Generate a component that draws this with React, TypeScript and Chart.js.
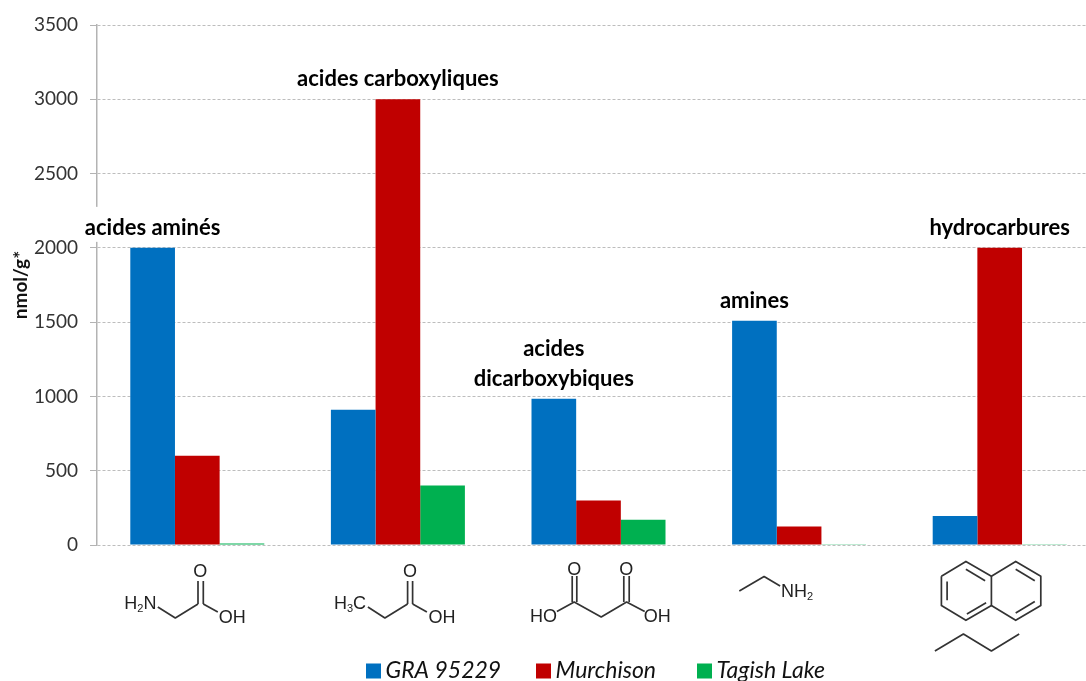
import React, { useEffect, useRef } from "react";
import { Chart, registerables } from "chart.js";

Chart.register(...registerables);

const categories = ["acides aminés", "acides carboxyliques", "acides dicarboxybiques", "amines", "hydrocarbures"];
const groupLabelLines = [["acides aminés"], ["acides carboxyliques"], ["acides", "dicarboxybiques"], ["amines"], ["hydrocarbures"]];
const seriesNames = ["GRA 95229", "Murchison", "Tagish Lake"];
const seriesColors = ["#0070C0", "#C00000", "#00B050"];
const gra95229 = [2000, 910, 985, 1510, 195];
const murchison = [600, 3000, 300, 125, 2000];
const tagishLake = [10, 400, 170, 5, 5];

const LABEL_FONT = "Lato, sans-serif";
const CHEM_FONT = '"Liberation Sans", Arial, sans-serif';

type Seg = { t: string; sub?: boolean };
type Atom = { x: number; y: number; segs: Seg[] };
type Structure = { lines: number[][]; atoms: Atom[] };

// Molecule sketches: offsets from the category centre and from the x axis.
const structures: Structure[] = [
  {
    lines: [
      [-39.5, 62, -22, 73, 0.7, 59],
      [0.7, 59, 0.7, 36],
      [6, 59, 6, 36],
      [6, 59, 20.5, 67],
    ],
    atoms: [
      { x: -73, y: 59, segs: [{ t: "H" }, { t: "2", sub: true }, { t: "N" }] },
      { x: 3, y: 27, segs: [{ t: "O" }] },
      { x: 35, y: 73, segs: [{ t: "OH" }] },
    ],
  },
  {
    lines: [
      [-30, 62, -13, 73, 9.7, 59],
      [9.7, 59, 9.7, 36],
      [14.7, 59, 14.7, 36],
      [14.7, 59, 29, 67],
    ],
    atoms: [
      { x: -64, y: 59, segs: [{ t: "H" }, { t: "3", sub: true }, { t: "C" }] },
      { x: 12, y: 27, segs: [{ t: "O" }] },
      { x: 44, y: 73, segs: [{ t: "OH" }] },
    ],
  },
  {
    lines: [
      [-41.6, 66.5, -24.3, 57, 2.7, 72, 28.1, 57, 46.2, 66.5],
      [-26.3, 57, -26.3, 31],
      [-21.7, 57, -21.7, 31],
      [25.3, 57, 25.3, 31],
      [30.7, 57, 30.7, 31],
    ],
    atoms: [
      { x: -55, y: 72, segs: [{ t: "HO" }] },
      { x: -24.3, y: 25, segs: [{ t: "O" }] },
      { x: 27.7, y: 25, segs: [{ t: "O" }] },
      { x: 58.7, y: 72, segs: [{ t: "OH" }] },
    ],
  },
  {
    lines: [[-59.8, 46, -35, 31.6, -19, 41]],
    atoms: [{ x: -18, y: 47, segs: [{ t: "NH" }, { t: "2", sub: true }] }],
  },
  {
    lines: [
      [-58.3, 31.2, -33.8, 16.4, -8.3, 31.2, 16, 16.4, 41.1, 31.2, 41.1, 60.5, 16, 75.3, -8.3, 60.5, -33.8, 75.3, -58.3, 60.5, -58.3, 31.2],
      [-8.3, 31.2, -8.3, 60.5],
      [-52.6, 36.4, -52.6, 55.3],
      [-33.8, 24.3, -14.6, 35.7],
      [-32.8, 69, -13.6, 57.8],
      [16, 24.3, 35.1, 35.7],
      [35.1, 56.4, 16, 68],
      [-64.8, 106, -36.3, 89, -8.3, 106, 19.5, 89],
    ],
    atoms: [],
  },
];

const decorations = {
  id: "decorations",
  afterDraw(chart: any) {
    const { ctx, scales } = chart;
    const x = scales.x;
    const baseY = scales.y.getPixelForValue(0);

    // Group captions centred over each group's tallest bar
    ctx.save();
    ctx.textAlign = "center";
    ctx.textBaseline = "middle";
    ctx.font = `bold 22px ${LABEL_FONT}`;
    groupLabelLines.forEach((lines, i) => {
      let best = 0;
      chart.data.datasets.forEach((d: any, k: number) => {
        if (d.data[i] > chart.data.datasets[best].data[i]) best = k;
      });
      const bar = chart.getDatasetMeta(best).data[i];
      const width = Math.max(...lines.map((l) => ctx.measureText(l).width));
      const lastY = bar.y - 20;
      const firstY = lastY - (lines.length - 1) * 30;
      ctx.fillStyle = "#ffffff";
      ctx.fillRect(bar.x - width / 2 - 2, firstY - 21, width + 4, lastY - firstY + 35);
      ctx.fillStyle = "#000000";
      lines.forEach((l, n) => ctx.fillText(l, bar.x, firstY + n * 30));
    });
    ctx.restore();

    // Molecule sketches below each group
    ctx.save();
    ctx.strokeStyle = "#333333";
    ctx.lineWidth = 1.7;
    ctx.lineJoin = "round";
    structures.forEach((s, i) => {
      const cx = x.getPixelForTick(i);
      s.lines.forEach((pts) => {
        ctx.beginPath();
        for (let p = 0; p < pts.length; p += 2) {
          if (p === 0) ctx.moveTo(cx + pts[p], baseY + pts[p + 1]);
          else ctx.lineTo(cx + pts[p], baseY + pts[p + 1]);
        }
        ctx.stroke();
      });
      ctx.fillStyle = "#222222";
      ctx.textBaseline = "middle";
      s.atoms.forEach((a) => {
        const measure = (g: Seg) => {
          ctx.font = `${g.sub ? 11 : 18}px ${CHEM_FONT}`;
          return ctx.measureText(g.t).width;
        };
        const total = a.segs.reduce((acc, g) => acc + measure(g), 0);
        let px = a.segs.length === 1 ? cx + a.x - total / 2 : cx + a.x;
        ctx.textAlign = "left";
        a.segs.forEach((g) => {
          const w = measure(g);
          ctx.fillText(g.t, px, baseY + a.y + (g.sub ? 5 : 0));
          px += w;
        });
      });
    });
    ctx.restore();

    // Legend
    ctx.save();
    const cy = baseY + 126;
    const boxStarts = [366, 536, 697];
    chart.data.datasets.forEach((d: any, i: number) => {
      ctx.fillStyle = d.backgroundColor;
      ctx.fillRect(boxStarts[i], cy - 7.5, 15, 15);
      ctx.fillStyle = "#111111";
      ctx.font = `italic 23px ${LABEL_FONT}`;
      ctx.textAlign = "left";
      ctx.textBaseline = "middle";
      ctx.fillText(d.label, boxStarts[i] + 19.5, cy);
    });
    ctx.restore();
  },
};

export default function App() {
  const ref = useRef<HTMLCanvasElement>(null);
  useEffect(() => {
    const chart = new Chart(ref.current!, {
      type: "bar",
      data: {
        labels: categories,
        datasets: [
          { label: seriesNames[0], data: gra95229, backgroundColor: seriesColors[0] },
          { label: seriesNames[1], data: murchison, backgroundColor: seriesColors[1] },
          { label: seriesNames[2], data: tagishLake, backgroundColor: seriesColors[2] },
        ],
      },
      options: {
        responsive: false,
        animation: false,
        layout: { padding: { top: 25, left: 0, right: 0, bottom: 0 } },
        datasets: { bar: { categoryPercentage: 0.668, barPercentage: 1 } },
        plugins: { legend: { display: false }, tooltip: { enabled: false } },
        scales: {
          x: {
            grid: { display: false },
            border: { display: false },
            ticks: { display: false },
            afterFit(scale: any) {
              scale.height = 136;
            },
          },
          y: {
            min: 0,
            max: 3500,
            afterFit(scale: any) {
              scale.width = 97;
            },
            title: {
              display: true,
              text: "nmol/g*",
              color: "#111111",
              font: { family: LABEL_FONT, size: 19, weight: "bold" },
              padding: { top: 9, bottom: 0 },
            },
            ticks: {
              stepSize: 500,
              color: "#333333",
              padding: 12,
              font: { family: LABEL_FONT, size: 19 },
              callback: (v: number) => String(v),
            },
            border: { display: true, color: "#b3b3b3", width: 1.5, dash: [3, 2] },
            grid: {
              color: "#bdbdbd",
              lineWidth: 1,
              tickLength: 7,
              tickColor: "#b3b3b3",
              tickBorderDash: [],
            },
          },
        },
      },
      plugins: [decorations],
    } as any);
    return () => chart.destroy();
  }, []);
  return (
    <div style={{ position: "fixed", left: 0, top: 0, width: 1086, height: 681, overflow: "hidden", background: "#fff" }}>
      <canvas ref={ref} width={1100} height={681} style={{ display: "block" }} />
    </div>
  );
}
